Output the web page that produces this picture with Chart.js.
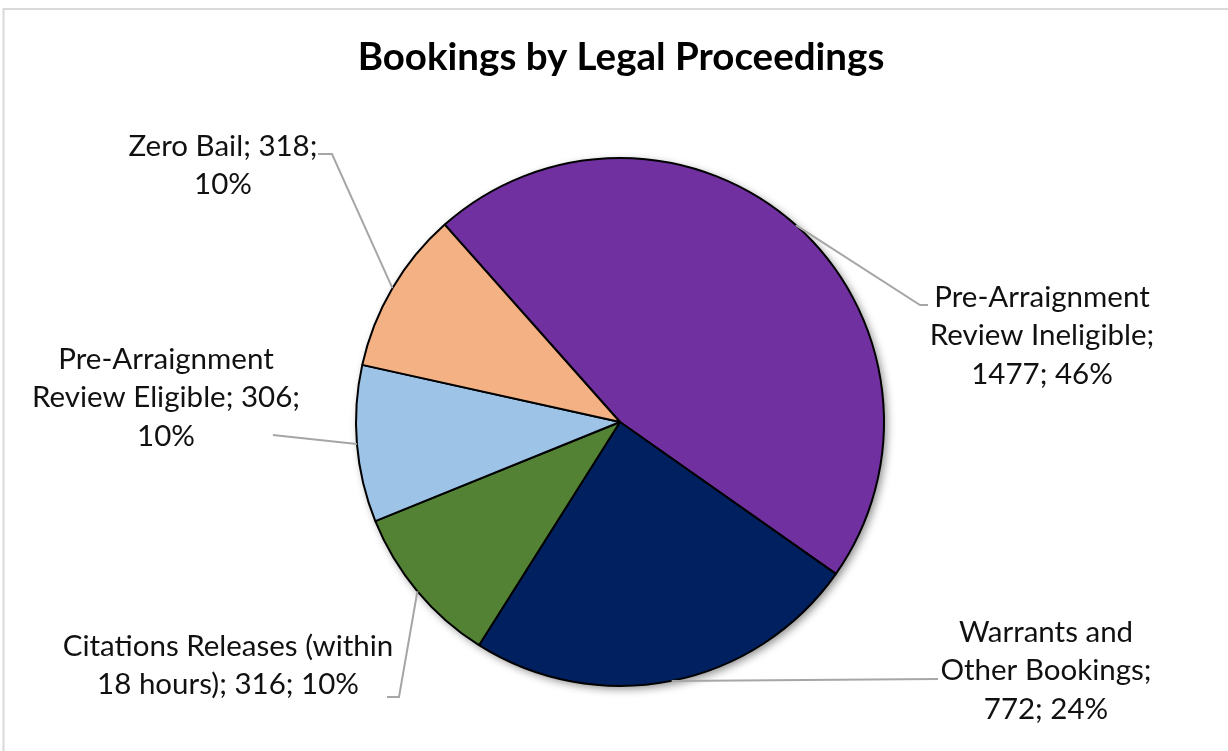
<!DOCTYPE html>
<html>
<head>
<meta charset="utf-8">
<script src="https://cdn.jsdelivr.net/npm/chart.js@4"></script>
<style>
  html, body { margin: 0; padding: 0; background: #fff; }
  canvas { display: block; }
</style>
</head>
<body>
<canvas id="myChart" width="1228" height="751"></canvas>
<script>
// data
const chartTitle = 'Bookings by Legal Proceedings';
const categories = [
    'Pre-Arraignment Review Ineligible',
    'Warrants and Other Bookings',
    'Citations Releases (within 18 hours)',
    'Pre-Arraignment Review Eligible',
    'Zero Bail'
];
const bookings = [1477, 772, 316, 306, 318];
const sliceColors = ['#7030A0', '#002060', '#548235', '#9DC3E6', '#F4B183'];

// where each label goes: leader elbow, leader end, text centre x, first line y, words per line
const labelSpots = [
    { elbow: [920, 305], end: [928, 305], x: 1042, y: 297, words: [1, 2, 2] },
    { elbow: [938, 679], end: [938, 679], x: 1046, y: 632, words: [2, 2, 2] },
    { elbow: [399, 697], end: [387, 697], x: 228, y: 646, words: [3, 4] },
    { elbow: [282, 436], end: [273, 435], x: 166, y: 359, words: [1, 3, 1] },
    { elbow: [332, 154], end: [318, 154], x: 223, y: 146, words: [3, 1] }
];

const labelFont = '29.5px Lato';
const lineGap = 38.5;

function splitLines(text, counts) {
    var words = text.split(' ');
    var lines = [];
    var at = 0;
    counts.forEach(function (n) {
        lines.push(words.slice(at, at + n).join(' '));
        at += n;
    });
    return lines;
}

const frameAndTitle = {
    id: 'frameAndTitle',
    beforeDraw(chart) {
        const ctx = chart.ctx;
        ctx.save();
        ctx.fillStyle = '#fff';
        ctx.fillRect(0, 0, chart.width, chart.height);
        ctx.strokeStyle = '#D9D9D9';
        ctx.lineWidth = 2;
        ctx.strokeRect(3.5, 9, chart.width + 10, chart.height + 10);
        ctx.fillStyle = '#000';
        ctx.font = 'bold 38.5px Lato';
        ctx.textAlign = 'center';
        ctx.textBaseline = 'middle';
        ctx.fillText(chartTitle, 621, 58);
        ctx.restore();
    },
    beforeDatasetsDraw(chart) {
        // soft drop shadow under the whole pie
        const arc = chart.getDatasetMeta(0).data[0];
        if (!arc) return;
        const p = arc.getProps(['x', 'y', 'outerRadius'], true);
        const ctx = chart.ctx;
        ctx.save();
        ctx.shadowColor = 'rgba(0,0,0,0.45)';
        ctx.shadowBlur = 8;
        ctx.shadowOffsetX = 3;
        ctx.shadowOffsetY = 3;
        ctx.fillStyle = '#fff';
        ctx.beginPath();
        ctx.arc(p.x, p.y, p.outerRadius, 0, Math.PI * 2);
        ctx.fill();
        ctx.restore();
    },
    afterDatasetsDraw(chart) {
        const ctx = chart.ctx;
        const total = bookings.reduce((a, b) => a + b, 0);
        ctx.save();
        ctx.font = labelFont;
        ctx.textAlign = 'center';
        ctx.textBaseline = 'middle';
        chart.getDatasetMeta(0).data.forEach(function (arc, i) {
            const p = arc.getProps(['x', 'y', 'startAngle', 'endAngle', 'outerRadius'], true);
            const mid = (p.startAngle + p.endAngle) / 2;
            const sx = p.x + Math.cos(mid) * p.outerRadius;
            const sy = p.y + Math.sin(mid) * p.outerRadius;
            const spot = labelSpots[i];

            ctx.strokeStyle = '#A6A6A6';
            ctx.lineWidth = 2;
            ctx.beginPath();
            ctx.moveTo(sx, sy);
            ctx.lineTo(spot.elbow[0], spot.elbow[1]);
            ctx.lineTo(spot.end[0], spot.end[1]);
            ctx.stroke();

            const pct = Math.round(bookings[i] / total * 100);
            const text = categories[i] + '; ' + bookings[i] + '; ' + pct + '%';
            const lines = splitLines(text, spot.words);
            ctx.fillStyle = '#111';
            lines.forEach(function (ln, k) {
                ctx.fillText(ln, spot.x, spot.y + k * lineGap);
            });
        });
        ctx.restore();
    }
};

var ctx = document.getElementById('myChart');
var myChart = new Chart(ctx, {
    type: 'pie',
    data: {
        labels: categories,
        datasets: [{
            data: bookings,
            backgroundColor: sliceColors,
            borderColor: '#000',
            borderWidth: 2
        }]
    },
    options: {
        responsive: false,
        animation: false,
        rotation: -41.6,
        layout: {
            padding: { left: 355, right: 343, top: 157, bottom: 64 }
        },
        plugins: {
            legend: { display: false },
            tooltip: { enabled: false },
            title: { display: false }
        }
    },
    plugins: [frameAndTitle]
});
</script>
</body>
</html>
